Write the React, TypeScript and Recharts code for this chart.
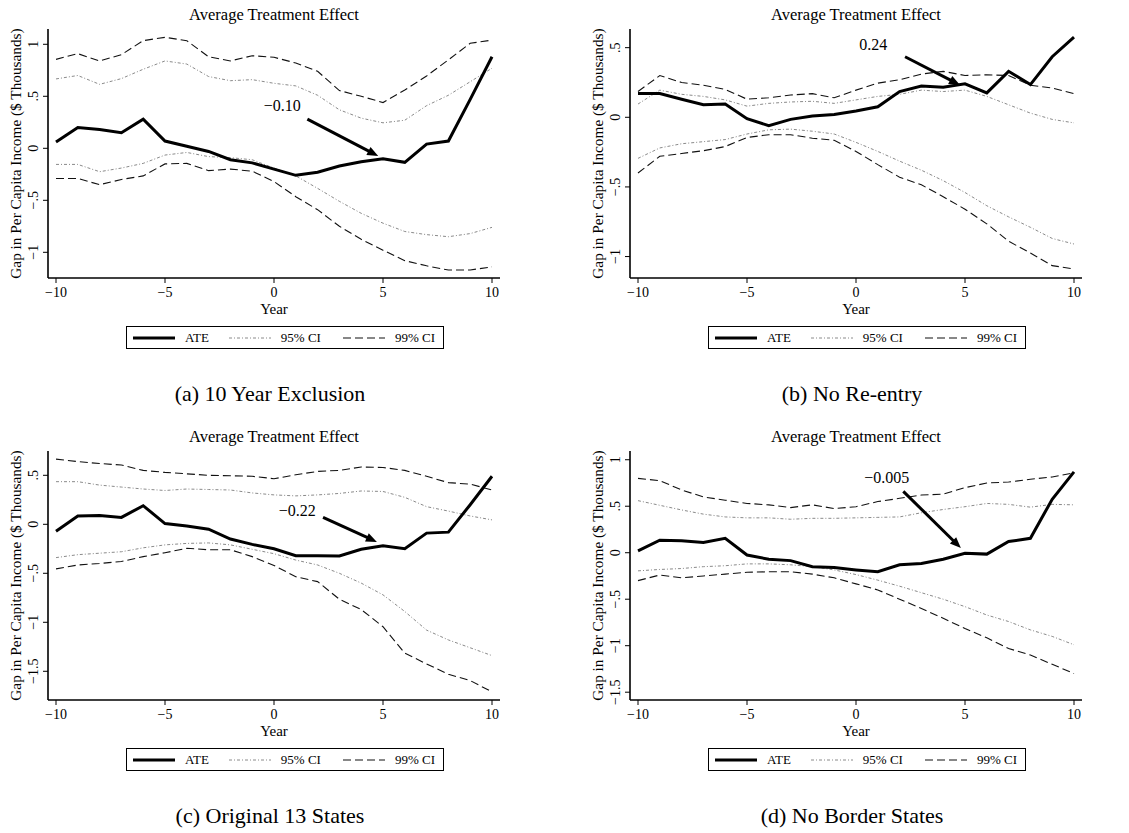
import React from "react";
import { LineChart, Line, XAxis, YAxis, Legend, ReferenceLine, ReferenceDot } from "recharts";

const years = [-10, -9, -8, -7, -6, -5, -4, -3, -2, -1, 0, 1, 2, 3, 4, 5, 6, 7, 8, 9, 10];
const xTicks = [-10, -5, 0, 5, 10];

// (a) 10 Year Exclusion
const ateA = [0.06, 0.2, 0.18, 0.15, 0.28, 0.07, 0.02, -0.03, -0.11, -0.14, -0.2, -0.26, -0.23, -0.17, -0.13, -0.1, -0.135, 0.04, 0.07, 0.47, 0.88];
const hi99A = [0.855, 0.91, 0.84, 0.9, 1.035, 1.067, 1.035, 0.88, 0.84, 0.89, 0.875, 0.82, 0.74, 0.555, 0.5, 0.44, 0.56, 0.695, 0.85, 1.01, 1.04];
const hi95A = [0.667, 0.7, 0.615, 0.67, 0.76, 0.84, 0.81, 0.69, 0.65, 0.66, 0.625, 0.6, 0.51, 0.37, 0.29, 0.245, 0.27, 0.41, 0.51, 0.64, 0.77];
const lo95A = [-0.155, -0.155, -0.225, -0.19, -0.145, -0.065, -0.04, -0.08, -0.09, -0.11, -0.19, -0.265, -0.385, -0.51, -0.625, -0.72, -0.8, -0.83, -0.85, -0.82, -0.76];
const lo99A = [-0.29, -0.29, -0.35, -0.3, -0.265, -0.15, -0.145, -0.215, -0.2, -0.22, -0.32, -0.465, -0.59, -0.75, -0.875, -0.98, -1.08, -1.13, -1.17, -1.17, -1.14];

// (b) No Re-entry
const ateB = [0.17, 0.17, 0.13, 0.09, 0.095, -0.01, -0.06, -0.015, 0.01, 0.02, 0.045, 0.075, 0.185, 0.225, 0.215, 0.24, 0.175, 0.33, 0.235, 0.435, 0.575];
const hi99B = [0.185, 0.3, 0.25, 0.23, 0.2, 0.13, 0.14, 0.16, 0.17, 0.14, 0.195, 0.245, 0.27, 0.31, 0.33, 0.3, 0.305, 0.3, 0.23, 0.21, 0.17];
const hi95B = [0.095, 0.195, 0.165, 0.15, 0.125, 0.08, 0.1, 0.11, 0.115, 0.1, 0.125, 0.15, 0.165, 0.195, 0.185, 0.195, 0.15, 0.09, 0.03, -0.015, -0.04];
const lo95B = [-0.295, -0.22, -0.19, -0.175, -0.16, -0.12, -0.09, -0.085, -0.1, -0.12, -0.18, -0.245, -0.315, -0.38, -0.455, -0.54, -0.635, -0.715, -0.79, -0.87, -0.91];
const lo99B = [-0.4, -0.28, -0.26, -0.24, -0.21, -0.145, -0.125, -0.125, -0.15, -0.165, -0.245, -0.34, -0.43, -0.485, -0.57, -0.66, -0.765, -0.89, -0.975, -1.065, -1.09];

// (c) Original 13 States
const ateC = [-0.07, 0.085, 0.09, 0.07, 0.19, 0.007, -0.017, -0.05, -0.15, -0.205, -0.25, -0.32, -0.32, -0.323, -0.255, -0.22, -0.25, -0.09, -0.08, 0.2, 0.49];
const hi99C = [0.665, 0.64, 0.62, 0.605, 0.55, 0.53, 0.515, 0.5, 0.495, 0.49, 0.465, 0.505, 0.54, 0.55, 0.585, 0.58, 0.55, 0.49, 0.425, 0.41, 0.35];
const hi95C = [0.435, 0.435, 0.4, 0.38, 0.36, 0.345, 0.36, 0.355, 0.35, 0.32, 0.3, 0.29, 0.3, 0.315, 0.34, 0.335, 0.275, 0.18, 0.135, 0.085, 0.045];
const lo95C = [-0.34, -0.31, -0.295, -0.28, -0.24, -0.21, -0.195, -0.19, -0.21, -0.255, -0.3, -0.365, -0.415, -0.5, -0.6, -0.72, -0.89, -1.08, -1.18, -1.26, -1.34];
const lo99C = [-0.455, -0.415, -0.4, -0.38, -0.33, -0.29, -0.245, -0.26, -0.26, -0.33, -0.42, -0.535, -0.585, -0.765, -0.87, -1.045, -1.315, -1.425, -1.53, -1.595, -1.71];

// (d) No Border States
const ateD = [0.02, 0.135, 0.13, 0.11, 0.155, -0.025, -0.07, -0.085, -0.15, -0.16, -0.185, -0.205, -0.13, -0.115, -0.07, -0.005, -0.015, 0.12, 0.155, 0.575, 0.87];
const hi99D = [0.8, 0.775, 0.675, 0.6, 0.565, 0.53, 0.515, 0.485, 0.515, 0.475, 0.495, 0.55, 0.585, 0.62, 0.63, 0.7, 0.75, 0.76, 0.79, 0.815, 0.86];
const hi95D = [0.56, 0.51, 0.46, 0.415, 0.385, 0.375, 0.375, 0.36, 0.37, 0.37, 0.375, 0.38, 0.385, 0.43, 0.465, 0.495, 0.53, 0.52, 0.49, 0.52, 0.515];
const lo95D = [-0.195, -0.18, -0.17, -0.15, -0.14, -0.12, -0.12, -0.13, -0.15, -0.185, -0.235, -0.295, -0.36, -0.43, -0.5, -0.58, -0.67, -0.74, -0.83, -0.9, -0.99];
const lo99D = [-0.3, -0.24, -0.27, -0.25, -0.23, -0.21, -0.205, -0.205, -0.23, -0.27, -0.335, -0.4, -0.5, -0.6, -0.705, -0.815, -0.915, -1.03, -1.1, -1.2, -1.3];

const FONT = "'Liberation Serif', 'DejaVu Serif', serif";
const CI95 = { stroke: "#8a8a8a", width: 1, dash: "3 2 1 2" };
const CI99 = { stroke: "#111", width: 1.1, dash: "8 4" };

const toRows = (ate: number[], lo95: number[], hi95: number[], lo99: number[], hi99: number[]) =>
  years.map((year, i) => ({ year, ate: ate[i], lo95: lo95[i], hi95: hi95[i], lo99: lo99[i], hi99: hi99[i] }));

const fmt = (v: number) => {
  if (v === 0) return "0";
  const s = String(Math.abs(v)).replace(/^0\./, ".");
  return v < 0 ? "\u2212" + s : s;
};

const YTick = (props: any) => {
  const { x, y, payload } = props;
  return (
    <g transform={`translate(${x},${y}) rotate(-90)`}>
      <text x={0} y={0} textAnchor="middle" fontSize={14} fill="#000" fontFamily={FONT}>
        {fmt(payload.value)}
      </text>
    </g>
  );
};

const YLabel = (props: any) => {
  const vb = props.viewBox || { x: 0, y: 0, height: 0 };
  const cx = vb.x + 21;
  const cy = vb.y + vb.height / 2;
  return (
    <text transform={`translate(${cx},${cy}) rotate(-90)`} textAnchor="middle" fontSize={15.3} fill="#000" fontFamily={FONT}>
      Gap in Per Capita Income ($ Thousands)
    </text>
  );
};

const YearLabel = (props: any) => {
  const vb = props.viewBox || { x: 0, y: 0, width: 0 };
  return (
    <text x={vb.x + vb.width / 2} y={vb.y + 36} textAnchor="middle" fontSize={15} fill="#000" fontFamily={FONT}>
      Year
    </text>
  );
};

const Arrow = (p: any) => {
  const { x1, y1, x2, y2 } = p;
  const dx = x2 - x1;
  const dy = y2 - y1;
  const len = Math.sqrt(dx * dx + dy * dy) || 1;
  const ux = dx / len;
  const uy = dy / len;
  const head = 11;
  const half = 4.5;
  const bx = x2 - ux * head;
  const by = y2 - uy * head;
  const pts = `${x2},${y2} ${bx - uy * half},${by + ux * half} ${bx + uy * half},${by - ux * half}`;
  return (
    <g>
      <line x1={x1} y1={y1} x2={bx + ux * 2} y2={by + uy * 2} stroke="#000" strokeWidth={3} />
      <polygon points={pts} fill="#000" />
    </g>
  );
};

const Sample = ({ stroke, width, dash }: { stroke: string; width: number; dash?: string }) => (
  <svg width={42} height={6} style={{ display: "block" }}>
    <line x1={0} y1={3} x2={42} y2={3} stroke={stroke} strokeWidth={width} strokeDasharray={dash} />
  </svg>
);

const LegendBox = () => (
  <div
    style={{
      boxSizing: "border-box",
      width: 318,
      height: 23,
      border: "1px solid #000",
      background: "#fff",
      display: "flex",
      alignItems: "center",
      fontFamily: FONT,
      fontSize: 13,
      color: "#000",
      paddingLeft: 6,
      whiteSpace: "nowrap",
    }}
  >
    <Sample stroke="#000" width={3} />
    <span style={{ marginLeft: 10, marginRight: 20 }}>ATE</span>
    <Sample stroke={CI95.stroke} width={CI95.width} dash={CI95.dash} />
    <span style={{ marginLeft: 10, marginRight: 22 }}>95% CI</span>
    <Sample stroke={CI99.stroke} width={CI99.width} dash={CI99.dash} />
    <span style={{ marginLeft: 10 }}>99% CI</span>
  </div>
);

type Note = { tx: number; ty: number; text: string; ax1: number; ay1: number; ax2: number; ay2: number };

type PanelProps = {
  left: number;
  top: number;
  caption: string;
  rows: any[];
  domain: [number, number];
  yTicks: number[];
  note: Note;
};

const Panel = ({ left, top, caption, rows, domain, yTicks, note }: PanelProps) => (
  <div style={{ position: "absolute", left, top, width: 560, height: 411 }}>
    <div
      style={{
        position: "absolute",
        left: 48,
        width: 452,
        top: 5,
        lineHeight: "20px",
        textAlign: "center",
        fontFamily: FONT,
        fontSize: 16.5,
        color: "#000",
      }}
    >
      Average Treatment Effect
    </div>
    <div style={{ position: "absolute", left: 0, top: 0 }}>
      <LineChart width={560} height={360} data={rows} margin={{ top: 29, right: 60, bottom: 42, left: 0 }}>
        <XAxis
          dataKey="year"
          type="number"
          domain={[-10, 10]}
          ticks={xTicks}
          padding={{ left: 8, right: 8 }}
          tickFormatter={fmt}
          tick={{ fill: "#000", fontSize: 14, fontFamily: FONT }}
          tickSize={5}
          tickMargin={4}
          tickLine={{ stroke: "#000" }}
          axisLine={{ stroke: "#000", strokeWidth: 1.6 }}
          height={40}
          label={<YearLabel />}
        />
        <XAxis
          xAxisId="top"
          orientation="top"
          dataKey="year"
          type="number"
          domain={[-10, 10]}
          padding={{ left: 8, right: 8 }}
          tick={false}
          tickLine={false}
          axisLine={{ stroke: "#000", strokeWidth: 1.1 }}
          height={0}
        />
        <YAxis
          type="number"
          domain={domain}
          allowDataOverflow
          ticks={yTicks}
          tick={<YTick />}
          tickSize={5}
          tickMargin={5}
          tickLine={{ stroke: "#000" }}
          axisLine={{ stroke: "#000", strokeWidth: 1.6 }}
          width={48}
          label={<YLabel />}
        />
        <YAxis
          yAxisId="right"
          orientation="right"
          type="number"
          domain={domain}
          allowDataOverflow
          tick={false}
          tickLine={false}
          axisLine={{ stroke: "#000", strokeWidth: 1.1 }}
          width={0}
        />
        <Legend
          verticalAlign="middle"
          align="center"
          layout="horizontal"
          wrapperStyle={{ top: 326, left: 126, width: 318, height: 23 }}
          content={<LegendBox />}
        />
        <Line dataKey="hi95" type="linear" stroke={CI95.stroke} strokeWidth={CI95.width} strokeDasharray={CI95.dash} dot={false} isAnimationActive={false} />
        <Line dataKey="lo95" type="linear" stroke={CI95.stroke} strokeWidth={CI95.width} strokeDasharray={CI95.dash} dot={false} isAnimationActive={false} />
        <Line dataKey="hi99" type="linear" stroke={CI99.stroke} strokeWidth={CI99.width} strokeDasharray={CI99.dash} dot={false} isAnimationActive={false} />
        <Line dataKey="lo99" type="linear" stroke={CI99.stroke} strokeWidth={CI99.width} strokeDasharray={CI99.dash} dot={false} isAnimationActive={false} />
        <Line dataKey="ate" type="linear" stroke="#000" strokeWidth={3} dot={false} isAnimationActive={false} />
        <ReferenceLine
          segment={[
            { x: note.ax1, y: note.ay1 },
            { x: note.ax2, y: note.ay2 },
          ]}
          shape={<Arrow />}
        />
        <ReferenceDot
          x={note.tx}
          y={note.ty}
          r={0}
          shape={(p: any) => (
            <text x={p.cx} y={p.cy} dy="0.35em" textAnchor="middle" fontSize={16} fill="#000" fontFamily={FONT}>
              {note.text}
            </text>
          )}
        />
      </LineChart>
    </div>
    <div
      style={{
        position: "absolute",
        left: 0,
        width: 540,
        top: 381,
        lineHeight: "26px",
        textAlign: "center",
        fontFamily: FONT,
        fontSize: 22,
        color: "#000",
      }}
    >
      {caption}
    </div>
  </div>
);

export default function App() {
  return (
    <div style={{ position: "absolute", left: 0, top: 0, width: 1129, height: 833, background: "#fff", fontFamily: FONT }}>
      <Panel
        left={0}
        top={0}
        caption="(a) 10 Year Exclusion"
        rows={toRows(ateA, lo95A, hi95A, lo99A, hi99A)}
        domain={[-1.247, 1.147]}
        yTicks={[-1, -0.5, 0, 0.5, 1]}
        note={{ tx: 0.38, ty: 0.41, text: "\u22120.10", ax1: 1.53, ay1: 0.28, ax2: 4.78, ay2: -0.074 }}
      />
      <Panel
        left={582}
        top={0}
        caption="(b) No Re-entry"
        rows={toRows(ateB, lo95B, hi95B, lo99B, hi99B)}
        domain={[-1.154, 0.634]}
        yTicks={[-1, -0.5, 0, 0.5]}
        note={{ tx: 0.79, ty: 0.52, text: "0.24", ax1: 2.25, ay1: 0.435, ax2: 4.77, ay2: 0.232 }}
      />
      <Panel
        left={0}
        top={422}
        caption="(c) Original 13 States"
        rows={toRows(ateC, lo95C, hi95C, lo99C, hi99C)}
        domain={[-1.793, 0.748]}
        yTicks={[-1.5, -1, -0.5, 0, 0.5]}
        note={{ tx: 1.07, ty: 0.14, text: "\u22120.22", ax1: 2.25, ay1: 0.07, ax2: 4.72, ay2: -0.18 }}
      />
      <Panel
        left={582}
        top={422}
        caption="(d) No Border States"
        rows={toRows(ateD, lo95D, hi95D, lo99D, hi99D)}
        domain={[-1.584, 1.094]}
        yTicks={[-1.5, -1, -0.5, 0, 0.5, 1]}
        note={{ tx: 1.41, ty: 0.81, text: "\u22120.005", ax1: 2.17, ay1: 0.66, ax2: 4.81, ay2: 0.05 }}
      />
    </div>
  );
}
